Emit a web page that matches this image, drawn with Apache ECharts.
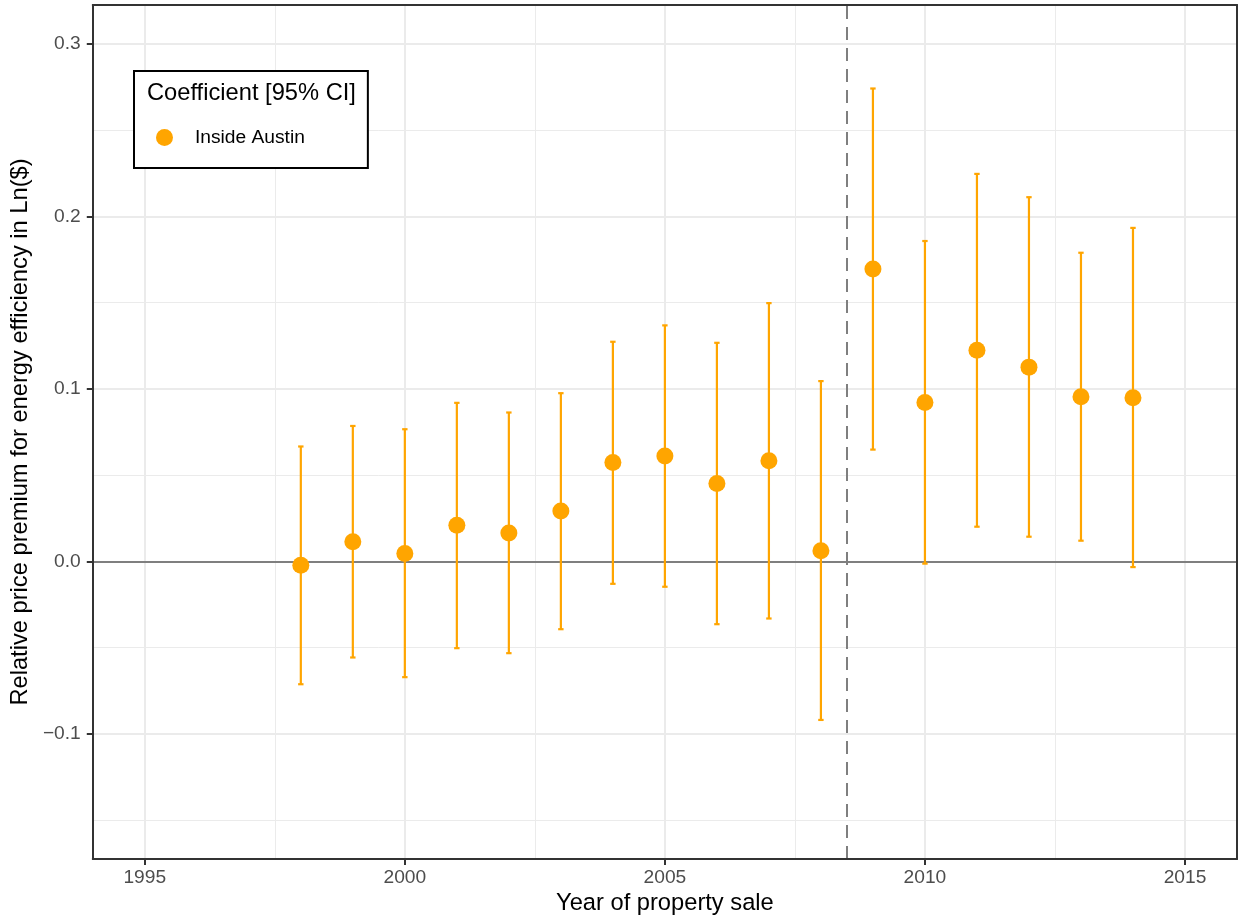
<!DOCTYPE html>
<html>
<head>
<meta charset="utf-8">
<script src="https://cdn.jsdelivr.net/npm/echarts@6/dist/echarts.min.js"></script>
<style>
html,body{margin:0;padding:0;background:#fff;}
#chart{width:1239px;height:922px;}
</style>
</head>
<body>
<div id="chart"></div>
<script>
// ---- data ----
var years = [1998, 1999, 2000, 2001, 2002, 2003, 2004, 2005, 2006, 2007, 2008, 2009, 2010, 2011, 2012, 2013, 2014];
var estimate = [-0.0023, 0.0114, 0.0046, 0.0209, 0.0164, 0.0292, 0.0573, 0.0611, 0.0451, 0.0584, 0.0062, 0.1695, 0.0921, 0.1224, 0.1126, 0.0954, 0.0948];
var lowerCI = [-0.0712, -0.0557, -0.0671, -0.0503, -0.0532, -0.0393, -0.0130, -0.0147, -0.0364, -0.0331, -0.0919, 0.0648, -0.0013, 0.0201, 0.0143, 0.0120, -0.0033];
var upperCI = [0.0666, 0.0785, 0.0766, 0.0919, 0.0863, 0.0975, 0.1273, 0.1368, 0.1267, 0.1497, 0.1045, 0.2741, 0.1857, 0.2246, 0.2111, 0.1789, 0.1933];
var xTicks = [1995, 2000, 2005, 2010, 2015];
var xMinorTicks = [1997.5, 2002.5, 2007.5, 2012.5];
var yTicks = [-0.1, 0.0, 0.1, 0.2, 0.3];
var yMinorTicks = [-0.15, -0.05, 0.05, 0.15, 0.25];
var policyBreak = 2008.5;
var seriesName = 'Inside Austin';
var legendTitle = 'Coefficient [95% CI]';
var xTitle = 'Year of property sale';
var yTitle = 'Relative price premium for energy efficiency in Ln($)';

// ---- chart ----
var FONT = '"Liberation Sans", Arial, Helvetica, sans-serif';
var ORANGE = '#FFA500';
var TITLE_FS = 23.7;
var SMALL_FS = 19.2;
var chart = echarts.init(document.getElementById('chart'), null, {renderer: 'canvas'});

var pointData = years.map(function (y, i) { return [y, estimate[i]]; });
var ciData = years.map(function (y, i) { return [y, lowerCI[i], upperCI[i]]; });

var gridLines = [];
xMinorTicks.forEach(function (v) { gridLines.push({xAxis: v, lineStyle: {color: '#EBEBEB', width: 1, type: 'solid'}}); });
yMinorTicks.forEach(function (v) { gridLines.push({yAxis: v, lineStyle: {color: '#EBEBEB', width: 1, type: 'solid'}}); });
xTicks.forEach(function (v) { gridLines.push({xAxis: v, lineStyle: {color: '#EBEBEB', width: 2, type: 'solid'}}); });
yTicks.forEach(function (v) { gridLines.push({yAxis: v, lineStyle: {color: '#EBEBEB', width: 2, type: 'solid'}}); });
gridLines.push({yAxis: 0, lineStyle: {color: '#7F7F7F', width: 2, type: 'solid'}});
gridLines.push({xAxis: policyBreak, lineStyle: {color: '#7F7F7F', width: 2, type: [13, 8]}});

function fmtY(v) { return v.toFixed(1).replace('-', '\u2212'); }
function fmtX(v) { return String(Math.round(v)); }

var option = {
  animation: false,
  backgroundColor: '#fff',
  textStyle: {fontFamily: FONT},
  grid: {left: 92, right: 2, top: 5, bottom: 63, show: false, containLabel: false},
  title: {
    text: legendTitle, left: 147, top: 81, padding: 0, z: 12,
    textStyle: {fontFamily: FONT, fontSize: TITLE_FS, fontWeight: 'normal', color: '#000'}
  },
  legend: {
    left: 134, top: 71, z: 10,
    padding: [57, 63, 21, 22],
    borderColor: '#000', borderWidth: 2, backgroundColor: '#fff',
    itemWidth: 17, itemHeight: 17,
    data: [{name: seriesName, icon: 'circle'}],
    textStyle: {fontFamily: FONT, fontSize: SMALL_FS, color: '#000', padding: [0, 0, 0, 17]}
  },
  xAxis: [{
    type: 'value', min: 1994, max: 2016, position: 'bottom', z: 5,
    name: xTitle, nameLocation: 'middle', nameGap: 30,
    nameTextStyle: {fontFamily: FONT, fontSize: TITLE_FS, color: '#000'},
    axisLine: {show: true, onZero: false, lineStyle: {color: '#333333', width: 2}},
    axisTick: {show: true, length: 6, customValues: xTicks, lineStyle: {color: '#333333', width: 2}},
    axisLabel: {show: true, customValues: xTicks, formatter: fmtX, margin: 9, fontFamily: FONT, fontSize: SMALL_FS, color: '#4D4D4D'},
    splitLine: {show: false}
  }, {
    type: 'value', min: 1994, max: 2016, position: 'top', z: 5,
    axisLine: {show: true, onZero: false, lineStyle: {color: '#333333', width: 2}},
    axisTick: {show: false}, axisLabel: {show: false}, splitLine: {show: false}
  }],
  yAxis: [{
    type: 'value', min: -0.1725, max: 0.3225, position: 'left', z: 5,
    name: yTitle, nameLocation: 'middle', nameGap: 52, nameRotate: 90,
    nameTextStyle: {fontFamily: FONT, fontSize: TITLE_FS, color: '#000'},
    axisLine: {show: true, onZero: false, lineStyle: {color: '#333333', width: 2}},
    axisTick: {show: true, length: 6, customValues: yTicks, lineStyle: {color: '#333333', width: 2}},
    axisLabel: {show: true, customValues: yTicks, margin: 12, formatter: fmtY, fontFamily: FONT, fontSize: SMALL_FS, color: '#4D4D4D'},
    splitLine: {show: false}
  }, {
    type: 'value', min: -0.1725, max: 0.3225, position: 'right', z: 5,
    axisLine: {show: true, onZero: false, lineStyle: {color: '#333333', width: 2}},
    axisTick: {show: false}, axisLabel: {show: false}, splitLine: {show: false}
  }],
  series: [{
    type: 'scatter', data: [], z: 1, silent: true,
    markLine: {silent: true, z: 1, symbol: ['none', 'none'], label: {show: false}, animation: false, data: gridLines}
  }, {
    type: 'custom', z: 2, silent: true,
    data: ciData,
    encode: {x: 0, y: [1, 2]},
    renderItem: function (params, api) {
      var x = api.value(0), lo = api.value(1), hi = api.value(2);
      var top = api.coord([x, hi]);
      var bot = api.coord([x, lo]);
      var hw = 2.7;
      var st = {stroke: ORANGE, lineWidth: 2.2, fill: null};
      return {
        type: 'group',
        children: [
          {type: 'line', shape: {x1: top[0], y1: top[1], x2: bot[0], y2: bot[1]}, style: st},
          {type: 'line', shape: {x1: top[0] - hw, y1: top[1], x2: top[0] + hw, y2: top[1]}, style: st},
          {type: 'line', shape: {x1: bot[0] - hw, y1: bot[1], x2: bot[0] + hw, y2: bot[1]}, style: st}
        ]
      };
    }
  }, {
    name: seriesName, type: 'scatter', z: 3,
    data: pointData, symbol: 'circle', symbolSize: 17,
    itemStyle: {color: ORANGE, opacity: 1}
  }]
};
chart.setOption(option);
</script>
</body>
</html>
